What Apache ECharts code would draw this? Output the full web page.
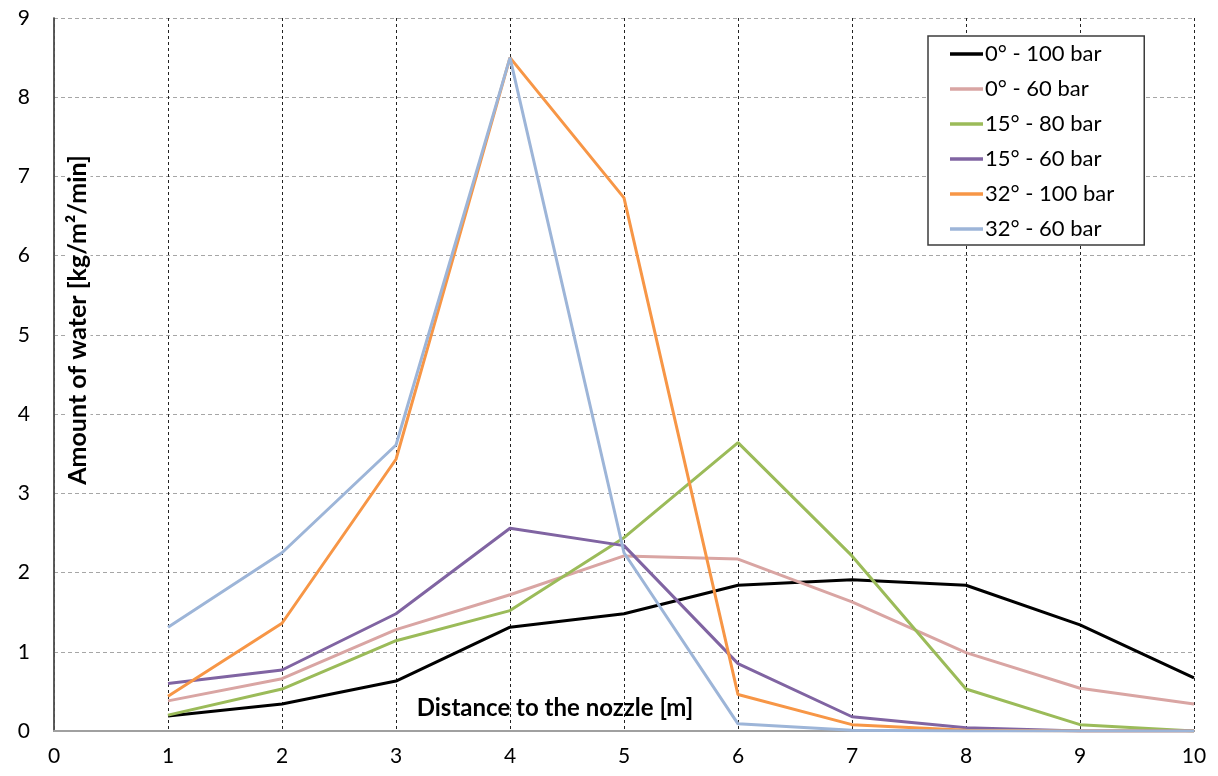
<!DOCTYPE html>
<html>
<head>
<meta charset="utf-8">
<script src="https://cdn.jsdelivr.net/npm/echarts@6/dist/echarts.min.js"></script>
<style>
  html, body { margin: 0; padding: 0; background: #fff; }
  #chart { width: 1218px; height: 776px; }
</style>
</head>
<body>
<div id="chart"></div>
<script>
// distance to the nozzle [m]
const distances = [1, 2, 3, 4, 5, 6, 7, 8, 9, 10]

const seriesNames = ['0° - 100 bar', '0° - 60 bar', '15° - 80 bar', '15° - 60 bar', '32° - 100 bar', '32° - 60 bar']
const seriesColors = ['#000000', '#d9a5a3', '#9bbb59', '#8064a2', '#f79646', '#9db5d8']

const deg0_100 = [0.19, 0.34, 0.63, 1.31, 1.48, 1.84, 1.91, 1.84, 1.34, 0.67]
const deg0_60 = [0.38, 0.66, 1.28, 1.72, 2.21, 2.17, 1.63, 0.99, 0.54, 0.34]
const deg15_80 = [0.20, 0.53, 1.14, 1.52, 2.44, 3.64, 2.21, 0.53, 0.08, 0.0]
const deg15_60 = [0.60, 0.77, 1.48, 2.56, 2.34, 0.85, 0.18, 0.04, 0.0, 0.0]
const deg32_100 = [0.44, 1.36, 3.43, 8.50, 6.73, 0.46, 0.08, 0.01, 0.0, 0.0]
const deg32_60 = [1.31, 2.25, 3.61, 8.50, 2.25, 0.09, 0.01, 0.0, 0.0, 0.0]

const allValues = [deg0_100, deg0_60, deg15_80, deg15_60, deg32_100, deg32_60]

const font = 'Lato, "Open Sans", sans-serif'

const chart = echarts.init(document.getElementById('chart'))

const series = allValues.map((vals, i) => ({
  name: seriesNames[i],
  type: 'line',
  symbol: 'none',
  data: vals.map((v, j) => [distances[j], v]),
  lineStyle: { color: seriesColors[i], width: 3 },
  itemStyle: { color: seriesColors[i] },
  z: 10 + i
}))

chart.setOption({
  animation: false,
  grid: { left: 54, right: 24, top: 18, bottom: 45 },
  xAxis: [
    {
      type: 'value',
      min: 0,
      max: 10,
      interval: 1,
      axisLine: { lineStyle: { color: '#8c8c8c', width: 2 } },
      axisTick: { show: false },
      axisLabel: { color: '#000', fontSize: 21, fontFamily: font, margin: 15 },
      splitLine: { show: true, lineStyle: { color: '#222', type: [3, 3], width: 1 } }
    },
    {
      type: 'value',
      position: 'top',
      min: 0,
      max: 10,
      axisLine: { show: true, lineStyle: { color: '#a0a0a0', width: 2 } },
      axisTick: { show: false },
      axisLabel: { show: false },
      splitLine: { show: false }
    }
  ],
  yAxis: [
    {
      type: 'value',
      min: 0,
      max: 9,
      interval: 1,
      axisLine: { show: true, lineStyle: { color: '#8c8c8c', width: 1.5 } },
      axisTick: { show: false },
      axisLabel: { color: '#000', fontSize: 21, fontFamily: font, margin: 24 },
      splitLine: { show: true, lineStyle: { color: '#a6a6a6', type: [4, 3], width: 1 } }
    },
    {
      type: 'value',
      position: 'right',
      min: 0,
      max: 9,
      axisLine: { show: true, lineStyle: { color: '#444', width: 1.5 } },
      axisTick: { show: false },
      axisLabel: { show: false },
      splitLine: { show: false }
    }
  ],
  legend: {
    orient: 'vertical',
    left: 928,
    top: 36,
    padding: [7, 30, 5, 22],
    icon: 'rect',
    itemWidth: 33,
    itemHeight: 3.5,
    itemGap: 13,
    backgroundColor: '#fff',
    borderColor: '#3c3c3c',
    borderWidth: 1.5,
    textStyle: { color: '#000', fontSize: 22, fontFamily: font, lineHeight: 21, padding: [0, 0, 0, -3] },
    data: seriesNames
  },
  graphic: [
    {
      type: 'text',
      x: 78,
      y: 320,
      rotation: Math.PI / 2,
      z: 5,
      style: {
        text: 'Amount of water [kg/m²/min]',
        fontSize: 25,
        fontWeight: 'bold',
        fontFamily: font,
        fill: '#000',
        align: 'center',
        verticalAlign: 'middle',
        backgroundColor: '#fff',
        padding: [0, 4]
      }
    },
    {
      type: 'text',
      x: 555,
      y: 708,
      z: 5,
      style: {
        text: 'Distance to the nozzle [m]',
        fontSize: 24,
        fontWeight: 'bold',
        fontFamily: font,
        fill: '#000',
        align: 'center',
        verticalAlign: 'middle'
      }
    }
  ],
  series: series
})
</script>
</body>
</html>
